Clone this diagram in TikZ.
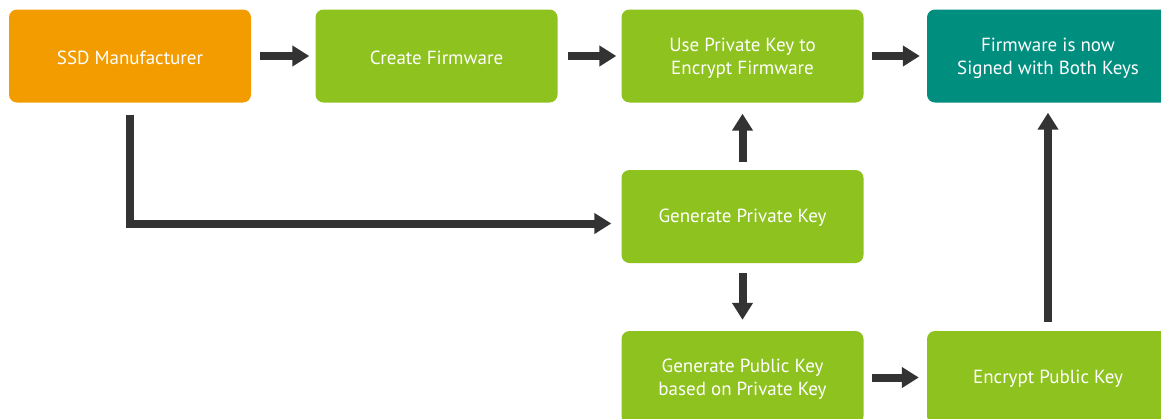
\documentclass[tikz,border=0pt]{standalone}
\usepackage{fontspec}
\setmainfont{PT Sans}
\usetikzlibrary{arrows.meta}
\definecolor{cOrange}{RGB}{243,156,0}
\definecolor{cGreen}{RGB}{141,194,31}
\definecolor{cTeal}{RGB}{0,142,127}
\definecolor{cArrow}{RGB}{51,51,51}
\tikzset{
  box/.style={rectangle, rounded corners=8pt, minimum width=242pt, minimum height=93pt,
    inner sep=0pt},
  orangebox/.style={box, fill=cOrange},
  greenbox/.style={box, fill=cGreen},
  tealbox/.style={box, fill=cTeal},
  txt/.style={inner sep=0pt, text=white, align=center, font=\fontsize{19}{23}\selectfont},
  flow/.style={draw=cArrow, line width=8pt, -{Triangle[width=20pt,length=17pt]}},
}
\begin{document}
\begin{tikzpicture}[x=1pt,y=-1pt]
\useasboundingbox (0,0) rectangle (1161,418);
\begin{scope}
\clip (0,0) rectangle (1161,418);
\node[orangebox] (ssd) at (130,56) {};
\node[greenbox] (create) at (436.5,56) {};
\node[greenbox] (use) at (742.5,56) {};
\node[tealbox] (signed) at (1048,56) {};
\node[greenbox] (genpriv) at (742.5,216.5) {};
\node[greenbox] (genpub) at (742.5,377.5) {};
\node[greenbox] (encpub) at (1048,377.5) {};
\end{scope}
\node[txt] (ssdt) at ([yshift=-2pt]ssd.center) {SSD Manufacturer};
\node[txt] (createt) at ([yshift=-2pt]create.center) {Create Firmware};
\node[txt] (uset) at ([yshift=-2.5pt]use.center) {Use Private Key to\\Encrypt Firmware};
\node[txt] (signedt) at ([yshift=-2.5pt]signed.center) {Firmware is now\\Signed with Both Keys};
\node[txt] (genprivt) at ([yshift=-1.5pt]genpriv.center) {Generate Private Key};
\node[txt] (genpubt) at ([yshift=-2pt]genpub.center) {Generate Public Key\\based on Private Key};
\node[txt] (encpubt) at ([yshift=-1.5pt]encpub.center) {Encrypt Public Key};
\coordinate (lcorner) at (130,223.5);
\draw[flow] ([xshift=9pt]ssd.east) -- ([xshift=-6pt]create.west);
\draw[flow] ([xshift=10pt]create.east) -- ([xshift=-5pt]use.west);
\draw[flow] ([xshift=8pt]use.east) -- ([xshift=-7pt]signed.west);
\draw[flow] ([yshift=-10pt]genpriv.south) -- ([yshift=11pt]genpub.north);
\draw[flow] ([yshift=8pt]genpriv.north) -- ([yshift=-11pt]use.south);
\draw[flow] ([xshift=8pt]genpub.east) -- ([xshift=-8pt]encpub.west);
\draw[flow] ([yshift=9pt]encpub.north) -- ([yshift=-10pt]signed.south);
\draw[flow] ([yshift=-12pt]ssd.south) |- ([xshift=-10pt]genpriv.west |- lcorner);
\end{tikzpicture}
\end{document}
